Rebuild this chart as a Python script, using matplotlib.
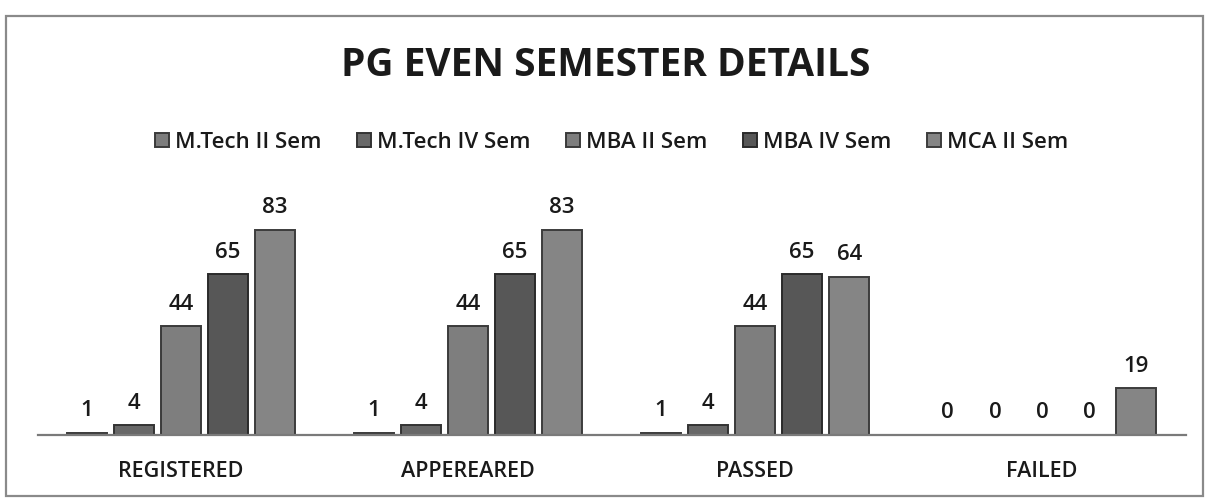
import matplotlib
matplotlib.use("Agg")
import matplotlib.pyplot as plt
from matplotlib.patches import Rectangle
import numpy as np

categories = ["REGISTERED", "APPEREARED", "PASSED", "FAILED"]
series_names = ["M.Tech II Sem", "M.Tech IV Sem", "MBA II Sem", "MBA IV Sem", "MCA II Sem"]
mtech2 = [1, 1, 1, 0]
mtech4 = [4, 4, 4, 0]
mba2 = [44, 44, 44, 0]
mba4 = [65, 65, 65, 0]
mca2 = [83, 83, 64, 19]
series_values = [mtech2, mtech4, mba2, mba4, mca2]

colors = ["#7c7c7c", "#686868", "#7e7e7e", "#575757", "#858585"]
edges = ["#3a3a3a", "#333333", "#3a3a3a", "#2a2a2a", "#3c3c3c"]

plt.rcParams['font.family'] = ['Open Sans', 'DejaVu Sans']

W, H = 1208, 502
fig = plt.figure(figsize=(W / 100, H / 100), dpi=100)
fig.patch.set_facecolor("white")

# outer frame
fig.patches.append(Rectangle((6 / W, 5 / H), 1197 / W, 480 / H, transform=fig.transFigure,
                             fill=False, edgecolor="#8a8a8a", linewidth=1.6))

ax = fig.add_axes([37.5 / W, 66 / H, 1148 / W, 247 / H])
ax.set_xlim(-0.5, len(categories) - 0.5)
ax.set_ylim(0, 100)

x = np.arange(len(categories))
step = 0.164
width = 0.139
handles = []
for j, (name, vals) in enumerate(zip(series_names, series_values)):
    pos = x + (j - 2) * step
    bars = ax.bar(pos, vals, width, color=colors[j], edgecolor=edges[j], linewidth=1.4,
                  label=name, zorder=3)
    handles.append(bars)
    for b, v in zip(bars, vals):
        ax.annotate(str(v), (b.get_x() + b.get_width() / 2, b.get_height()),
                    xytext=(0, 9), textcoords="offset points", ha="center", va="bottom",
                    fontsize=16, fontweight="semibold", color="#1a1a1a")

for s in ["top", "right", "left"]:
    ax.spines[s].set_visible(False)
ax.spines["bottom"].set_color("#7a7a7a")
ax.spines["bottom"].set_linewidth(1.6)
ax.spines["bottom"].set_zorder(4)
ax.set_yticks([])
ax.set_xticks(x)
ax.set_xticklabels(categories, fontsize=15.5, fontweight="semibold", color="#1a1a1a")
ax.tick_params(axis="x", length=0, pad=18)
ax.set_facecolor("none")

fig.text(606 / W, 1 - 66 / H, "PG EVEN SEMESTER DETAILS", ha="center", va="center",
         fontsize=28, fontweight="bold", color="#1a1a1a")

leg = fig.legend(handles=handles, labels=series_names, loc="center", ncol=5,
                 bbox_to_anchor=(612 / W, 1 - 143 / H), frameon=False,
                 prop={"size": 16, "weight": "semibold"},
                 handlelength=0.6, handleheight=0.6, handletextpad=0.3, columnspacing=1.6)
for t in leg.get_texts():
    t.set_color("#1a1a1a")

fig.savefig("out.png", dpi=100, facecolor="white")
